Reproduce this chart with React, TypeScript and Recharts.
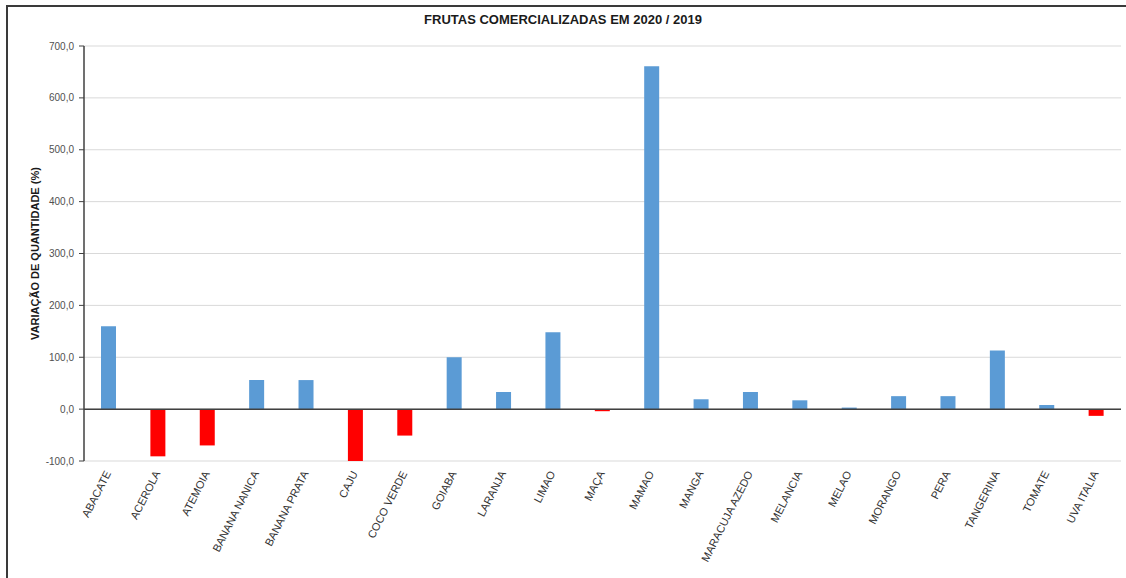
import React from "react";
import { BarChart, Bar, XAxis, YAxis, CartesianGrid, ReferenceLine, Cell } from "recharts";

const categories = [
  "ABACATE", "ACEROLA", "ATEMOIA", "BANANA NANICA", "BANANA PRATA", "CAJU", "COCO VERDE",
  "GOIABA", "LARANJA", "LIMAO", "MAÇA", "MAMAO", "MANGA", "MARACUJA AZEDO", "MELANCIA",
  "MELAO", "MORANGO", "PERA", "TANGERINA", "TOMATE", "UVA ITALIA",
];
const variation = [
  160, -91, -70, 56, 56, -100, -51, 100, 33, 148, -4, 661, 19, 33, 17, 3, 25, 25, 113, 8, -13,
];
const yTicks = [-100, 0, 100, 200, 300, 400, 500, 600, 700];

const data = categories.map((name, i) => ({ name, value: variation[i] }));

const fmt = (v: number) => v.toFixed(1).replace(".", ",");

const FONT = "Liberation Sans, Arial, sans-serif";

const XTick = (props: any) => {
  const { x, y, payload } = props;
  return (
    <text
      x={x}
      y={y}
      transform={`rotate(-63, ${x}, ${y})`}
      textAnchor="end"
      dominantBaseline="middle"
      fontSize={11}
      fill="#333"
      fontFamily={FONT}
    >
      {payload.value}
    </text>
  );
};

export default function App() {
  return (
    <div style={{ position: "absolute", left: 0, top: 0, width: 1126, height: 578, background: "#fff" }}>
      <div
        style={{
          position: "absolute",
          left: 6,
          top: 5,
          width: 1120,
          height: 573,
          borderTop: "2px solid #3a3a3a",
          borderLeft: "2px solid #3a3a3a",
          boxSizing: "border-box",
        }}
      />
      <div
        style={{
          position: "absolute",
          left: 0,
          top: 12,
          width: 1126,
          textAlign: "center",
          fontFamily: FONT,
          fontWeight: "bold",
          fontSize: 13,
          color: "#1a1a1a",
        }}
      >
        FRUTAS COMERCIALIZADAS EM 2020 / 2019
      </div>
      <div style={{ position: "absolute", left: 0, top: 0 }}>
        <BarChart
          width={1126}
          height={578}
          data={data}
          margin={{ top: 46, right: 5, bottom: 7, left: 0 }}
          barCategoryGap={0}
        >
          <CartesianGrid vertical={false} stroke="#d9d9d9" strokeWidth={1} />
          <XAxis
            dataKey="name"
            interval={0}
            axisLine={false}
            tickLine={false}
            height={110}
            tick={<XTick />}
            tickMargin={5}
          />
          <YAxis
            domain={[-100, 700]}
            ticks={yTicks}
            width={84}
            tickFormatter={fmt}
            axisLine={{ stroke: "#404040", strokeWidth: 1.5 }}
            tickLine={{ stroke: "#404040" }}
            tickSize={5}
            tickMargin={5}
            tick={{ fontSize: 10, fill: "#505050", fontFamily: FONT }}
            label={{
              value: "VARIAÇÃO DE QUANTIDADE (%)",
              angle: -90,
              position: "center",
              dx: -7,
              style: { fontSize: 11, fontWeight: "bold", fill: "#1a1a1a", fontFamily: FONT },
            }}
          />
          <ReferenceLine y={0} stroke="#404040" strokeWidth={1.5} />
          <Bar dataKey="value" barSize={15} isAnimationActive={false}>
            {data.map((d, i) => (
              <Cell key={i} fill={d.value < 0 ? "#ff0000" : "#5b9bd5"} />
            ))}
          </Bar>
        </BarChart>
      </div>
    </div>
  );
}
